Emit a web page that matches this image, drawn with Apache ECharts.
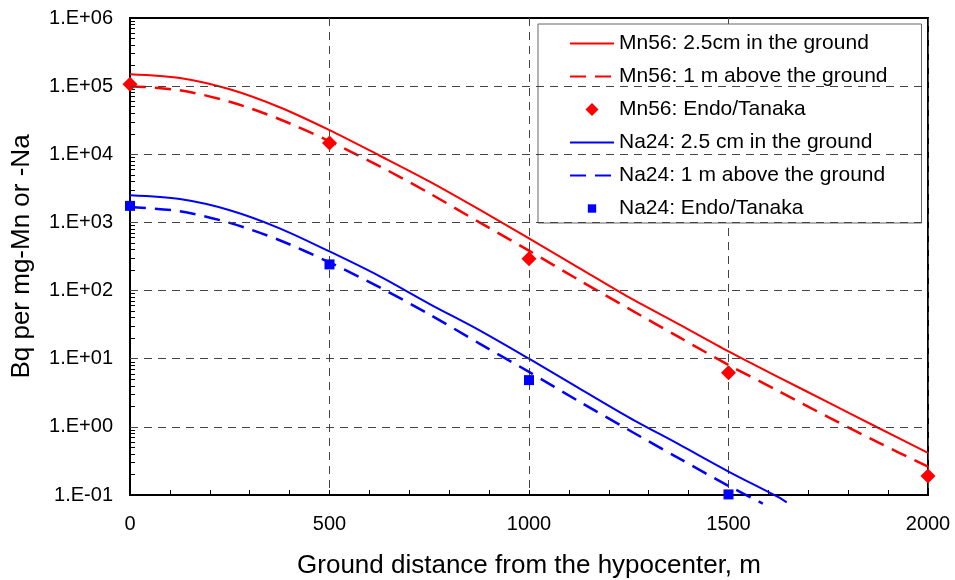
<!DOCTYPE html>
<html>
<head>
<meta charset="utf-8">
<script src="https://cdn.jsdelivr.net/npm/echarts@6/dist/echarts.min.js"></script>
<style>
html,body{margin:0;padding:0;background:#fff;}
#chart{width:955px;height:580px;}
</style>
</head>
<body>
<div id="chart"></div>
<script>
// Ground distance (m) sample points
const distances = [0, 125, 250, 375, 500, 625, 750, 875, 1000, 1125, 1250, 1375, 1500, 1625, 1750, 1875, 2000];
const mnGround   = [1.5e5, 1.32e5, 9.0e4, 4.9e4, 2.26e4, 9.6e3, 4.0e3, 1.55e3, 585, 216, 80, 32.2, 12.8, 5.37, 2.29, 0.97, 0.415];
const mnAbove    = [1.0e5, 8.7e4, 5.9e4, 3.27e4, 1.55e4, 6.7e3, 2.69e3, 1.01e3, 385, 143, 54.3, 20.9, 8.1, 3.37, 1.39, 0.59, 0.26];
const naDist     = [0, 125, 250, 375, 500, 625, 750, 875, 1000, 1125, 1250, 1375, 1500, 1625, 1646];
const naGround   = [2.5e3, 2.2e3, 1.51e3, 820, 375, 163, 64, 26.3, 10, 3.7, 1.38, 0.557, 0.221, 0.093, 0.078];
const naDistAbove= [0, 125, 250, 375, 500, 625, 750, 875, 1000, 1125, 1250, 1375, 1500, 1586];
const naAbove    = [1.68e3, 1.46e3, 986, 548, 259, 112, 44.8, 16.8, 6.4, 2.37, 0.90, 0.347, 0.136, 0.075];
// Endo/Tanaka measured points
const obsDist    = [0, 500, 1000, 1500, 2000];
const mnObs      = [1.07e5, 1.47e4, 294, 6.2, 0.19];
const naObsDist  = [0, 500, 1000, 1500];
const naObs      = [1.75e3, 242, 4.85, 0.102];
// Axis ticks
const xTicks = [0, 500, 1000, 1500, 2000];
const yGridVals = [1, 10, 100, 1e3, 1e4, 1e5];
const yMin = 0.1, yMax = 1e6;

const names = [
  'Mn56: 2.5cm in the ground',
  'Mn56: 1 m above the ground',
  'Mn56: Endo/Tanaka',
  'Na24: 2.5 cm in the ground',
  'Na24: 1 m above the ground',
  'Na24: Endo/Tanaka'
];

function pairs(xs, ys){ return xs.map((x,i)=>[x, ys[i]]); }

// log-axis minor tick positions (1..9 per decade)
const yTickVals = [];
for (let e = -1; e < 6; e++) {
  for (let k = 1; k < 10; k++) yTickVals.push(k * Math.pow(10, e));
}
yTickVals.push(yMax);

function expLabel(v){
  const e = Math.round(Math.log10(v));
  return '1.E' + (e < 0 ? '-' : '+') + String(Math.abs(e)).padStart(2, '0');
}

const FONT = 'Liberation Sans, Arial, sans-serif';
const RED = '#ff0000', BLUE = '#0000ff';
const dash = [16, 9];
const gridDash = {color: '#444', type: [8, 6], width: 1};
const hideSym = {opacity: 0};

const chart = echarts.init(document.getElementById('chart'), null, {renderer:'canvas'});
chart.setOption({
  animation: false,
  backgroundColor: '#fff',
  textStyle: {fontFamily: FONT, color: '#000'},
  grid: {left: 130, right: 27, top: 18, bottom: 85, show: true, borderColor: '#000', borderWidth: 2,
         backgroundColor: 'transparent', containLabel: false, outerBoundsMode: 'none'},
  legend: {
    orient: 'vertical', left: 538, top: 24, align: 'left',
    backgroundColor: '#fff', borderColor: '#666', borderWidth: 1,
    padding: [9, 34, 4, 31], itemWidth: 44, itemHeight: 13, itemGap: 12,
    textStyle: {fontSize: 21, fontFamily: FONT, color: '#000'},
    data: [
      {name: names[0], itemStyle: hideSym},
      {name: names[1], itemStyle: hideSym},
      {name: names[2], icon: 'path://M0,-1L1,0L0,1L-1,0Z', itemStyle: {opacity: 1}},
      {name: names[3], itemStyle: hideSym},
      {name: names[4], itemStyle: hideSym},
      {name: names[5], icon: 'path://M-7,-7M-4.5,-4.5L4.5,-4.5L4.5,4.5L-4.5,4.5Z M7,7', itemStyle: {opacity: 1}}
    ]
  },
  xAxis: {
    type: 'value', min: xTicks[0], max: xTicks[xTicks.length-1], interval: 500,
    name: 'Ground distance from the hypocenter, m', nameLocation: 'middle', nameGap: 58,
    nameTextStyle: {fontSize: 26, fontFamily: FONT, color: '#000'},
    axisLine: {show: true, onZero: false, lineStyle: {color: '#000', width: 2}},
    axisTick: {show: true, inside: true, length: 5, lineStyle: {color: '#000', width: 1}},
    minorTick: {show: true, splitNumber: 5, length: 5, lineStyle: {color: '#000', width: 1}},
    axisLabel: {fontSize: 20, fontFamily: FONT, color: '#000', margin: 19, formatter: v => String(v)},
    splitLine: {show: true, lineStyle: gridDash}
  },
  yAxis: {
    type: 'log', logBase: 10, min: yMin, max: yMax, interval: 1,
    name: 'Bq per mg-Mn or -Na', nameLocation: 'middle', nameGap: 95,
    nameTextStyle: {fontSize: 26, fontFamily: FONT, color: '#000'},
    axisLine: {show: true, lineStyle: {color: '#000', width: 2}},
    axisTick: {show: true, inside: true, length: 5, customValues: yTickVals, lineStyle: {color: '#000', width: 1}},
    axisLabel: {fontSize: 20, fontFamily: FONT, color: '#000', margin: 17, formatter: expLabel},
    splitLine: {show: false}
  },
  series: [
    {name: '_grid', type: 'line', data: [], z: 1, silent: true, legendHoverLink: false,
     markLine: {silent: true, symbol: ['none', 'none'], label: {show: false}, lineStyle: gridDash,
                emphasis: {disabled: true}, data: yGridVals.map(v => ({yAxis: v}))}},
    {name: names[0], type: 'line', data: pairs(distances, mnGround), smooth: 0.3, symbol: 'none', clip: false,
     lineStyle: {color: RED, width: 2}, itemStyle: {color: RED}, z: 3},
    {name: names[1], type: 'line', data: pairs(distances, mnAbove), smooth: 0.3, symbol: 'none', clip: false,
     lineStyle: {color: RED, width: 2.5, type: dash}, itemStyle: {color: RED}, z: 3},
    {name: names[2], type: 'scatter', data: pairs(obsDist, mnObs), symbol: 'diamond', symbolSize: 15, clip: false,
     itemStyle: {color: RED, opacity: 1}, z: 4},
    {name: names[3], type: 'line', data: pairs(naDist, naGround), smooth: 0.3, symbol: 'none', clip: false,
     lineStyle: {color: BLUE, width: 2}, itemStyle: {color: BLUE}, z: 3},
    {name: names[4], type: 'line', data: pairs(naDistAbove, naAbove), smooth: 0.3, symbol: 'none', clip: false,
     lineStyle: {color: BLUE, width: 2.5, type: dash}, itemStyle: {color: BLUE}, z: 3},
    {name: names[5], type: 'scatter', data: pairs(naObsDist, naObs), symbol: 'rect', symbolSize: 10, clip: false,
     itemStyle: {color: BLUE, opacity: 1}, z: 4}
  ]
});
</script>
</body>
</html>
